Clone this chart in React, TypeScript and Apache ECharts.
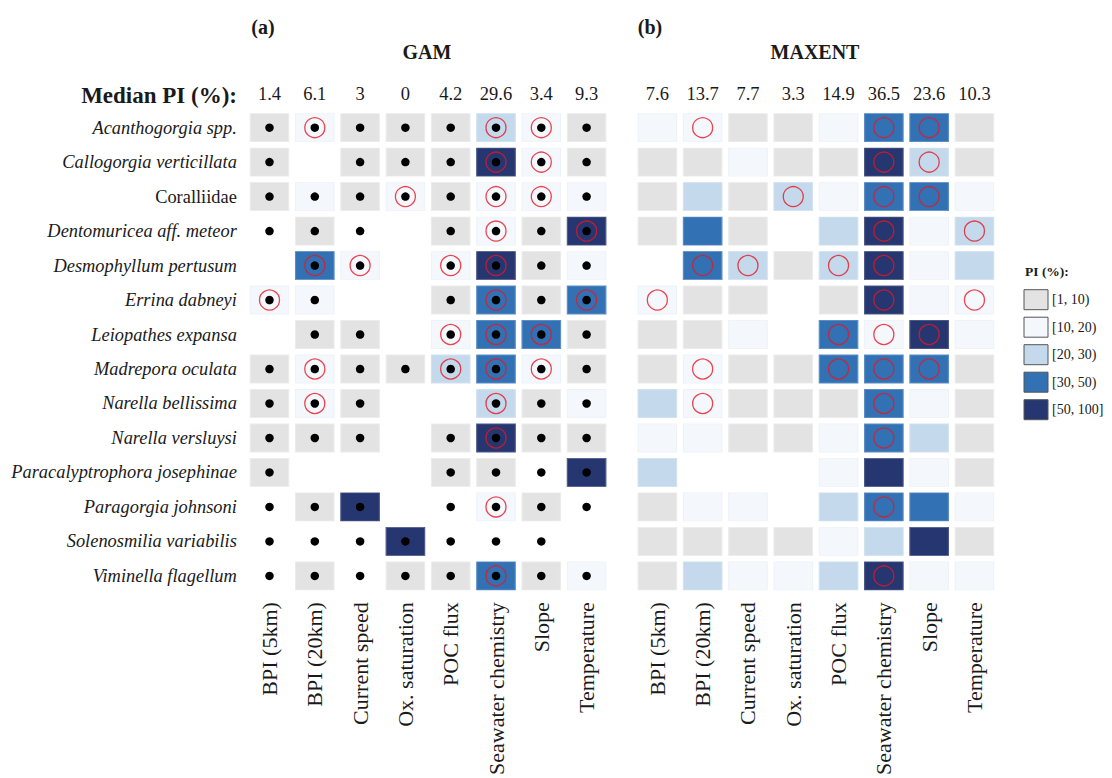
import React, { useEffect, useRef } from "react";
import * as echarts from "echarts";

const species = [
  "Acanthogorgia spp.",
  "Callogorgia verticillata",
  "Coralliidae",
  "Dentomuricea aff. meteor",
  "Desmophyllum pertusum",
  "Errina dabneyi",
  "Leiopathes expansa",
  "Madrepora oculata",
  "Narella bellissima",
  "Narella versluysi",
  "Paracalyptrophora josephinae",
  "Paragorgia johnsoni",
  "Solenosmilia variabilis",
  "Viminella flagellum",
];
const nonItalic = ["Coralliidae"];

const predictors = [
  "BPI (5km)",
  "BPI (20km)",
  "Current speed",
  "Ox. saturation",
  "POC flux",
  "Seawater chemistry",
  "Slope",
  "Temperature",
];

const gamMedian = ["1.4", "6.1", "3", "0", "4.2", "29.6", "3.4", "9.3"];
const maxentMedian = ["7.6", "13.7", "7.7", "3.3", "14.9", "36.5", "23.6", "10.3"];

// PI class: 0 none, 1 [1,10), 2 [10,20), 3 [20,30), 4 [30,50), 5 [50,100]
const gamClass = [
  [1, 2, 1, 1, 1, 3, 2, 1],
  [1, 0, 1, 1, 1, 5, 2, 1],
  [1, 2, 1, 2, 1, 2, 2, 2],
  [0, 1, 0, 0, 1, 2, 1, 5],
  [0, 4, 2, 0, 2, 5, 1, 2],
  [2, 2, 0, 0, 1, 4, 1, 4],
  [0, 1, 1, 0, 2, 4, 4, 1],
  [1, 2, 1, 1, 3, 4, 2, 1],
  [1, 2, 1, 0, 0, 3, 1, 2],
  [1, 1, 1, 0, 1, 5, 1, 1],
  [1, 0, 0, 0, 1, 1, 0, 5],
  [0, 1, 5, 0, 0, 2, 1, 0],
  [0, 0, 0, 5, 0, 0, 0, 0],
  [0, 1, 0, 1, 1, 4, 1, 2],
];
const gamDot = [
  [1, 1, 1, 1, 1, 1, 1, 1],
  [1, 0, 1, 1, 1, 1, 1, 1],
  [1, 1, 1, 1, 1, 1, 1, 1],
  [1, 1, 1, 0, 1, 1, 1, 1],
  [0, 1, 1, 0, 1, 1, 1, 1],
  [1, 1, 0, 0, 1, 1, 1, 1],
  [0, 1, 1, 0, 1, 1, 1, 1],
  [1, 1, 1, 1, 1, 1, 1, 1],
  [1, 1, 1, 0, 0, 1, 1, 1],
  [1, 1, 1, 0, 1, 1, 1, 1],
  [1, 0, 0, 0, 1, 1, 1, 1],
  [1, 1, 1, 0, 1, 1, 1, 1],
  [1, 1, 1, 1, 1, 1, 1, 0],
  [1, 1, 1, 1, 1, 1, 1, 1],
];
const gamSig = [
  [0, 1, 0, 0, 0, 1, 1, 0],
  [0, 0, 0, 0, 0, 1, 1, 0],
  [0, 0, 0, 1, 0, 1, 1, 0],
  [0, 0, 0, 0, 0, 1, 0, 1],
  [0, 1, 1, 0, 1, 1, 0, 0],
  [1, 0, 0, 0, 0, 1, 0, 1],
  [0, 0, 0, 0, 1, 1, 1, 0],
  [0, 1, 0, 0, 1, 1, 1, 0],
  [0, 1, 0, 0, 0, 1, 0, 0],
  [0, 0, 0, 0, 0, 1, 0, 0],
  [0, 0, 0, 0, 0, 0, 0, 0],
  [0, 0, 0, 0, 0, 1, 0, 0],
  [0, 0, 0, 0, 0, 0, 0, 0],
  [0, 0, 0, 0, 0, 1, 0, 0],
];
const maxentClass = [
  [2, 2, 1, 1, 2, 4, 4, 1],
  [1, 1, 2, 1, 1, 5, 3, 1],
  [1, 3, 1, 3, 2, 4, 4, 2],
  [1, 4, 1, 0, 3, 5, 2, 3],
  [0, 4, 3, 1, 3, 5, 2, 3],
  [2, 1, 1, 0, 1, 5, 2, 2],
  [1, 1, 2, 0, 4, 2, 5, 2],
  [1, 2, 1, 1, 4, 4, 4, 1],
  [3, 2, 1, 1, 1, 4, 2, 1],
  [2, 2, 1, 1, 2, 4, 3, 1],
  [3, 0, 0, 0, 2, 5, 2, 1],
  [1, 2, 2, 0, 3, 4, 4, 2],
  [1, 1, 1, 1, 2, 3, 5, 1],
  [1, 3, 2, 2, 3, 5, 2, 2],
];
const maxentSig = [
  [0, 1, 0, 0, 0, 1, 1, 0],
  [0, 0, 0, 0, 0, 1, 1, 0],
  [0, 0, 0, 1, 0, 1, 1, 0],
  [0, 0, 0, 0, 0, 1, 0, 1],
  [0, 1, 1, 0, 1, 1, 0, 0],
  [1, 0, 0, 0, 0, 1, 0, 1],
  [0, 0, 0, 0, 1, 1, 1, 0],
  [0, 1, 0, 0, 1, 1, 1, 0],
  [0, 1, 0, 0, 0, 1, 0, 0],
  [0, 0, 0, 0, 0, 1, 0, 0],
  [0, 0, 0, 0, 0, 0, 0, 0],
  [0, 0, 0, 0, 0, 1, 0, 0],
  [0, 0, 0, 0, 0, 0, 0, 0],
  [0, 0, 0, 0, 0, 1, 0, 0],
];

const classLabels = ["[1, 10)", "[10, 20)", "[20, 30)", "[30, 50)", "[50, 100]"];
const classFill = ["#ffffff", "#e3e3e3", "#f4f8fd", "#c4d9eb", "#3171b4", "#263670"];
const classBorder = ["#ffffff", "#ececec", "#eef3fa", "#d0e1ef", "#5b8dc4", "#4b5886"];

const SERIF = "'Liberation Serif', 'DejaVu Serif', serif";
const TXT = "#1a1a1a";

function tilesData(cls: number[][]) {
  const out: any[] = [];
  cls.forEach((row, r) =>
    row.forEach((c, k) => {
      if (c > 0)
        out.push({
          value: [k, r, c],
          itemStyle: { color: classFill[c], borderColor: classBorder[c], borderWidth: 1, opacity: 1 },
        });
    })
  );
  return out;
}
function flagData(m: number[][]) {
  const out: number[][] = [];
  m.forEach((row, r) => row.forEach((v, k) => { if (v) out.push([k, r]); }));
  return out;
}

export default function App() {
  const ref = useRef<HTMLDivElement>(null);
  useEffect(() => {
    if (!ref.current) return;
    const chart = echarts.init(ref.current, undefined, { renderer: "svg" });
    const colW = 45.3;
    const rowH = 34.87;
    const gridTop = 110.4;
    const gridH = rowH * species.length;
    const gridW = colW * predictors.length;
    const lefts = [246.85, 634.7];

    const grids = lefts.map((l) => ({ left: l, top: gridTop, width: gridW, height: gridH }));
    const xAxes: any[] = [];
    const yAxes: any[] = [];
    [0, 1].forEach((g) => {
      xAxes.push({
        type: "category",
        gridIndex: g,
        data: predictors,
        position: "bottom",
        axisLine: { show: false },
        axisTick: { show: false },
        splitLine: { show: false },
        axisLabel: { rotate: 90, margin: 9, fontFamily: SERIF, fontSize: 22, color: TXT, interval: 0 },
      });
      xAxes.push({
        type: "category",
        gridIndex: g,
        data: g === 0 ? gamMedian : maxentMedian,
        position: "top",
        axisLine: { show: false },
        axisTick: { show: false },
        splitLine: { show: false },
        axisLabel: { margin: 7, fontFamily: SERIF, fontSize: 18.5, color: TXT, interval: 0 },
      });
      yAxes.push({
        type: "category",
        gridIndex: g,
        data: species,
        inverse: true,
        axisLine: { show: false },
        axisTick: { show: false },
        splitLine: { show: false },
        axisLabel: {
          show: g === 0,
          margin: 10,
          interval: 0,
          formatter: (v: string) => (nonItalic.includes(v) ? `{n|${v}}` : `{i|${v}}`),
          rich: {
            i: { fontFamily: SERIF, fontSize: 18.4, fontStyle: "italic", color: TXT },
            n: { fontFamily: SERIF, fontSize: 18.4, color: TXT },
          },
        },
      });
    });

    const sigStyle = { color: "rgba(0,0,0,0)", borderColor: "rgba(232,22,32,0.8)", borderWidth: 1.3, opacity: 1 };
    const series: any[] = [
      { type: "scatter", xAxisIndex: 0, yAxisIndex: 0, symbol: "rect", symbolSize: [38.5, 28], data: tilesData(gamClass), silent: true, z: 1 },
      { type: "scatter", xAxisIndex: 0, yAxisIndex: 0, symbol: "circle", symbolSize: 20, data: flagData(gamSig), itemStyle: sigStyle, silent: true, z: 2 },
      { type: "scatter", xAxisIndex: 0, yAxisIndex: 0, symbol: "circle", symbolSize: 8.5, data: flagData(gamDot), itemStyle: { color: "#000", opacity: 1 }, silent: true, z: 3 },
      { type: "scatter", xAxisIndex: 2, yAxisIndex: 1, symbol: "rect", symbolSize: [38.5, 28], data: tilesData(maxentClass), silent: true, z: 1 },
      { type: "scatter", xAxisIndex: 2, yAxisIndex: 1, symbol: "circle", symbolSize: 20, data: flagData(maxentSig), itemStyle: sigStyle, silent: true, z: 2 },
    ];

    const graphics: any[] = [
      { type: "text", x: 263, y: 27, style: { text: "(a)", font: `bold 20px ${SERIF}`, fill: TXT, textAlign: "center", textVerticalAlign: "middle" } },
      { type: "text", x: 650, y: 27, style: { text: "(b)", font: `bold 20px ${SERIF}`, fill: TXT, textAlign: "center", textVerticalAlign: "middle" } },
      { type: "text", x: 427, y: 52, style: { text: "GAM", font: `bold 20px ${SERIF}`, fill: TXT, textAlign: "center", textVerticalAlign: "middle" } },
      { type: "text", x: 815, y: 52, style: { text: "MAXENT", font: `bold 20px ${SERIF}`, fill: TXT, textAlign: "center", textVerticalAlign: "middle" } },
      { type: "text", x: 237, y: 95, style: { text: "Median PI (%):", font: `bold 23px ${SERIF}`, fill: TXT, textAlign: "right", textVerticalAlign: "middle" } },
      { type: "text", x: 1025, y: 271, style: { text: "PI (%):", font: `bold 13.5px ${SERIF}`, fill: TXT, textAlign: "left", textVerticalAlign: "middle" } },
    ];
    classLabels.forEach((lab, i) => {
      const cy = 299.7 + i * 27.5;
      graphics.push({ type: "rect", shape: { x: 1024, y: cy - 10, width: 24, height: 20 }, style: { fill: classFill[i + 1], stroke: "#555", lineWidth: 1 } });
      graphics.push({ type: "text", x: 1052, y: cy, style: { text: lab, font: `14px ${SERIF}`, fill: TXT, textAlign: "left", textVerticalAlign: "middle" } });
    });

    chart.setOption({
      animation: false,
      backgroundColor: "#ffffff",
      grid: grids,
      xAxis: xAxes,
      yAxis: yAxes,
      series,
      graphic: graphics,
    });
    return () => chart.dispose();
  }, []);
  return <div ref={ref} style={{ position: "fixed", left: 0, top: 0, width: 1112, height: 778 }} />;
}
